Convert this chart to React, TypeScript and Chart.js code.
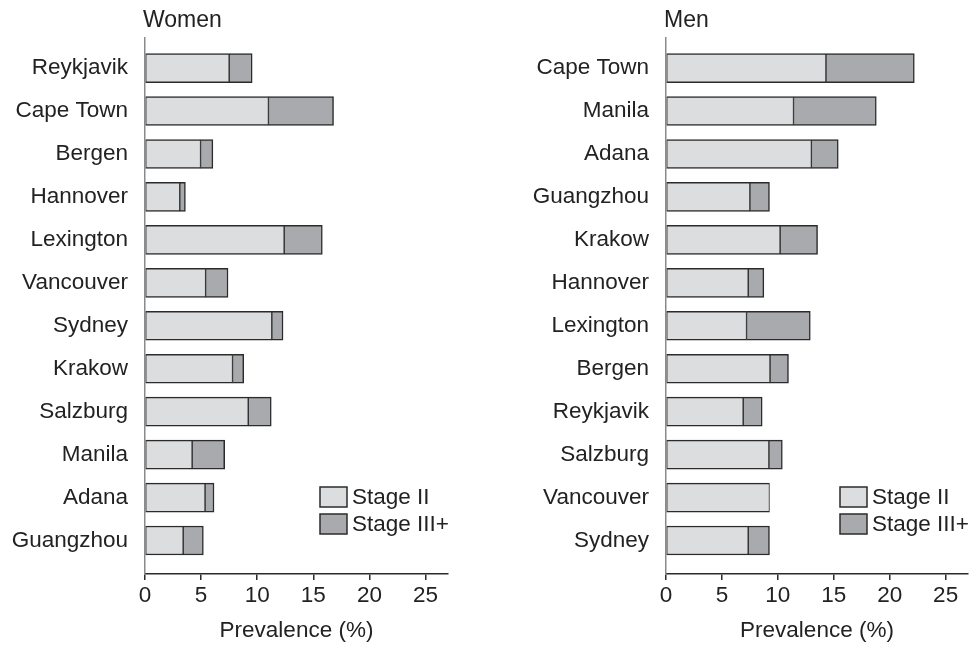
import { useEffect, useRef } from 'react';
import { Chart, registerables } from 'chart.js';

Chart.register(...registerables);

const womenCities = ['Reykjavik', 'Cape Town', 'Bergen', 'Hannover', 'Lexington', 'Vancouver', 'Sydney', 'Krakow', 'Salzburg', 'Manila', 'Adana', 'Guangzhou'];
const womenStage2 = [7.5, 11.0, 4.95, 3.1, 12.4, 5.4, 11.3, 7.8, 9.2, 4.2, 5.35, 3.4];
const womenStage3 = [2.05, 5.8, 1.1, 0.5, 3.4, 2.0, 1.0, 1.0, 2.05, 2.9, 0.8, 1.8];

const menCities = ['Cape Town', 'Manila', 'Adana', 'Guangzhou', 'Krakow', 'Hannover', 'Lexington', 'Bergen', 'Reykjavik', 'Salzburg', 'Vancouver', 'Sydney'];
const menStage2 = [14.3, 11.4, 13.0, 7.5, 10.2, 7.35, 7.2, 9.3, 6.9, 9.2, 9.25, 7.35];
const menStage3 = [7.9, 7.4, 2.4, 1.75, 3.35, 1.4, 5.7, 1.65, 1.7, 1.2, null, 1.9];

const xTicks = [0, 5, 10, 15, 20, 25];
const xMax = 27;
const seriesNames = ['Stage II', 'Stage III+'];
const seriesColors = ['#dcdddf', '#a9aaad'];

const FONT = "'Liberation Sans', Arial, Helvetica, sans-serif";
const FS = 22.5;
const TEXT = '#222222';
const EDGE = '#2b2b2b';

function makeChart(
  canvas: HTMLCanvasElement,
  title: string,
  cities: string[],
  s2: (number | null)[],
  s3: (number | null)[],
  yAxisWidth: number,
  padRight: number
) {
  const titlePlugin = {
    id: 'panelTitle',
    afterDraw(chart: any) {
      const ctx = chart.ctx;
      ctx.save();
      ctx.font = `23px ${FONT}`;
      ctx.fillStyle = TEXT;
      ctx.textBaseline = 'alphabetic';
      ctx.textAlign = 'left';
      ctx.fillText(title, chart.chartArea.left - 2, 27);
      ctx.restore();
    },
  };
  const legendPlugin = {
    id: 'innerLegend',
    afterDraw(chart: any) {
      const ctx = chart.ctx;
      const area = chart.chartArea;
      ctx.save();
      ctx.font = `${FS}px ${FONT}`;
      ctx.textBaseline = 'middle';
      ctx.textAlign = 'left';
      seriesNames.forEach((name, i) => {
        const bx = area.right - 128;
        const by = area.top + 449 + i * 27;
        ctx.fillStyle = seriesColors[i];
        ctx.fillRect(bx, by, 27, 20);
        ctx.strokeStyle = EDGE;
        ctx.lineWidth = 1.5;
        ctx.strokeRect(bx, by, 27, 20);
        ctx.fillStyle = TEXT;
        ctx.fillText(name, bx + 32, by + 11);
      });
      ctx.restore();
    },
  };

  const toPoints = (arr: (number | null)[]) => arr.map((v, i) => ({ x: v, y: i }));

  return new Chart(canvas, {
    type: 'bar',
    data: {
      datasets: [
        {
          label: seriesNames[0],
          data: toPoints(s2) as any,
          backgroundColor: seriesColors[0],
          borderColor: EDGE,
          borderWidth: { top: 1.5, bottom: 1.5, left: 1, right: 1 },
          borderSkipped: false,
          barThickness: 29,
        },
        {
          label: seriesNames[1],
          data: toPoints(s3) as any,
          backgroundColor: seriesColors[1],
          borderColor: EDGE,
          borderWidth: { top: 1.5, bottom: 1.5, left: 1, right: 1.5 },
          borderSkipped: false,
          barThickness: 29,
        },
      ],
    },
    options: {
      responsive: false,
      animation: false,
      indexAxis: 'y',
      layout: { padding: { top: 38, right: padRight, bottom: 0, left: 0 } },
      plugins: {
        legend: { display: false },
        title: { display: false },
        tooltip: { enabled: false },
      },
      scales: {
        x: {
          type: 'linear',
          stacked: true,
          min: 0,
          max: xMax,
          offset: false,
          afterBuildTicks: (scale: any) => {
            scale.ticks = xTicks.map((v) => ({ value: v }));
          },
          afterFit: (scale: any) => {
            scale.height = 76;
          },
          grid: {
            display: true,
            drawOnChartArea: false,
            drawTicks: true,
            tickLength: 6,
            color: EDGE,
            lineWidth: 1.5,
          },
          border: { display: true, color: EDGE, width: 1.5 },
          ticks: {
            font: { family: FONT, size: FS },
            color: TEXT,
            padding: 2,
            maxRotation: 0,
          },
          title: {
            display: true,
            text: 'Prevalence (%)',
            font: { family: FONT, size: FS },
            color: TEXT,
            padding: { top: 8, bottom: 6 },
          },
        },
        y: {
          type: 'linear',
          stacked: true,
          reverse: true,
          offset: false,
          min: -0.7,
          max: 11.78,
          afterBuildTicks: (scale: any) => {
            scale.ticks = cities.map((_, i) => ({ value: i }));
          },
          afterFit: (scale: any) => {
            scale.width = yAxisWidth;
          },
          grid: { display: false, drawTicks: false, offset: false },
          border: { display: true, color: '#8a8a8a', width: 1.5 },
          ticks: {
            font: { family: FONT, size: FS },
            color: TEXT,
            padding: 17,
            callback: (value: any) => cities[value as number] ?? '',
          },
        },
      },
    },
    plugins: [titlePlugin, legendPlugin],
  });
}

export default function App() {
  const womenRef = useRef<HTMLCanvasElement>(null);
  const menRef = useRef<HTMLCanvasElement>(null);

  useEffect(() => {
    const c1 = makeChart(womenRef.current!, 'Women', womenCities, womenStage2, womenStage3, 145, 12);
    const c2 = makeChart(menRef.current!, 'Men', menCities, menStage2, menStage3, 166, 1);
    return () => {
      c1.destroy();
      c2.destroy();
    };
  }, []);

  return (
    <div style={{ position: 'fixed', left: 0, top: 0, width: 969, height: 650, background: '#ffffff' }}>
      <canvas ref={womenRef} width={460} height={650} style={{ position: 'absolute', left: 0, top: 0 }} />
      <canvas ref={menRef} width={469} height={650} style={{ position: 'absolute', left: 500, top: 0 }} />
    </div>
  );
}
